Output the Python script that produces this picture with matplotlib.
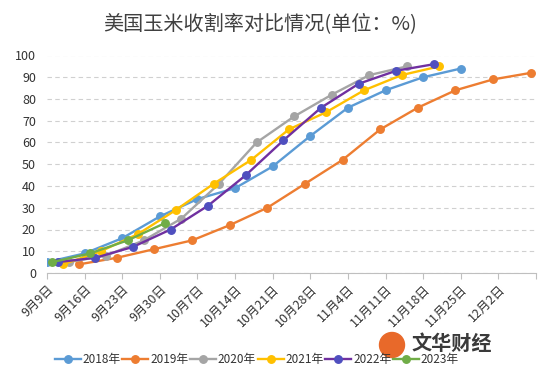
import matplotlib
matplotlib.use("Agg")
import matplotlib.pyplot as plt
import pandas as pd
from matplotlib.patches import Ellipse

plt.rcParams['font.family'] = ['Noto Sans CJK SC', 'DejaVu Sans']

# Data (dates mapped onto a common year)
dates_2018 = ["9-9", "9-16", "9-23", "9-30", "10-7", "10-14", "10-21", "10-28", "11-4", "11-11", "11-18", "11-25"]
vals_2018 = [5, 9, 16, 26, 34, 39, 49, 63, 76, 84, 90, 94]
dates_2019 = ["9-15", "9-22", "9-29", "10-6", "10-13", "10-20", "10-27", "11-3", "11-10", "11-17", "11-24", "12-1", "12-8"]
vals_2019 = [4, 7, 11, 15, 22, 30, 41, 52, 66, 76, 84, 89, 92]
dates_2020 = ["9-13", "9-20", "9-27", "10-4", "10-11", "10-18", "10-25", "11-1", "11-8", "11-15"]
vals_2020 = [5, 8, 15, 25, 41, 60, 72, 82, 91, 95]
dates_2021 = ["9-12", "9-19", "9-26", "10-3", "10-10", "10-17", "10-24", "10-31", "11-7", "11-14", "11-21"]
vals_2021 = [4, 10, 18, 29, 41, 52, 66, 74, 84, 91, 95]
dates_2022 = ["9-11", "9-18", "9-25", "10-2", "10-9", "10-16", "10-23", "10-30", "11-6", "11-13", "11-20"]
vals_2022 = [5, 7, 12, 20, 31, 45, 61, 76, 87, 93, 96]
dates_2023 = ["9-10", "9-17", "9-24", "10-1"]
vals_2023 = [5, 9, 15, 23]

series_names = ["2018年", "2019年", "2020年", "2021年", "2022年", "2023年"]
tick_dates = ["9-9", "9-16", "9-23", "9-30", "10-7", "10-14", "10-21", "10-28", "11-4", "11-11", "11-18", "11-25", "12-2", "12-9"]
tick_labels = ["9月9日", "9月16日", "9月23日", "9月30日", "10月7日", "10月14日", "10月21日", "10月28日",
               "11月4日", "11月11日", "11月18日", "11月25日", "12月2日", ""]

def to_dt(lst):
    return pd.to_datetime(["2018-" + d for d in lst], format="%Y-%m-%d")

line_colors = ["#5B9BD5", "#ED7D31", "#A5A5A5", "#FFC000", "#7030A0", "#70AD47"]
marker_colors = ["#5B9BD5", "#ED7D31", "#A5A5A5", "#FFC000", "#4F4FBF", "#70AD47"]
all_dates = [dates_2018, dates_2019, dates_2020, dates_2021, dates_2022, dates_2023]
all_vals = [vals_2018, vals_2019, vals_2020, vals_2021, vals_2022, vals_2023]

fig = plt.figure(figsize=(5.5, 3.75), dpi=100)
ax = fig.add_axes([0.0855, 0.272, 0.889, 0.58])

for d, v, name, lc, mc in zip(all_dates, all_vals, series_names, line_colors, marker_colors):
    ax.plot(to_dt(d), v, color=lc, lw=1.7, marker='o', ms=5.4, mfc=mc, mec=mc, label=name, zorder=3)

ax.set_ylim(0, 100)
ax.set_yticks(range(0, 101, 10))
tk = to_dt(tick_dates)
ax.set_xlim(tk[0], tk[-1])
ax.set_xticks(tk)
ax.set_xticklabels(tick_labels, rotation=45, ha='right', rotation_mode='anchor', fontsize=9, color='#333333')
ax.tick_params(axis='y', length=0, labelsize=9, labelcolor='#333333', pad=8)
ax.tick_params(axis='x', length=4, color='#BFBFBF', pad=3)
ax.grid(axis='y', color='#D0D0D0', linestyle=(0, (4, 3)), lw=0.8, zorder=0)
for s in ['left', 'right', 'top']:
    ax.spines[s].set_visible(False)
ax.spines['bottom'].set_color('#BFBFBF')

fig.text(0.473, 0.936, "美国玉米收割率对比情况(单位：%)", ha='center', va='center', fontsize=14.5, color='#404040')

# watermark
fig.patches.append(Ellipse((392 / 550, 1 - 345 / 375), 25 / 550, 25 / 375, transform=fig.transFigure,
                           color='#E8692A', zorder=5))
fig.text(412 / 550, 1 - 343 / 375, "文华财经", ha='left', va='center', fontsize=14.5, fontweight='bold',
         color='#3A3A3A')

leg = fig.legend(loc='center', bbox_to_anchor=(0.467, 0.04), ncol=6, frameon=False, fontsize=8.5,
                 handlelength=2.2, columnspacing=0.15, handletextpad=0.15)
for t in leg.get_texts():
    t.set_color('#333333')

fig.savefig("out.png", dpi=100)
